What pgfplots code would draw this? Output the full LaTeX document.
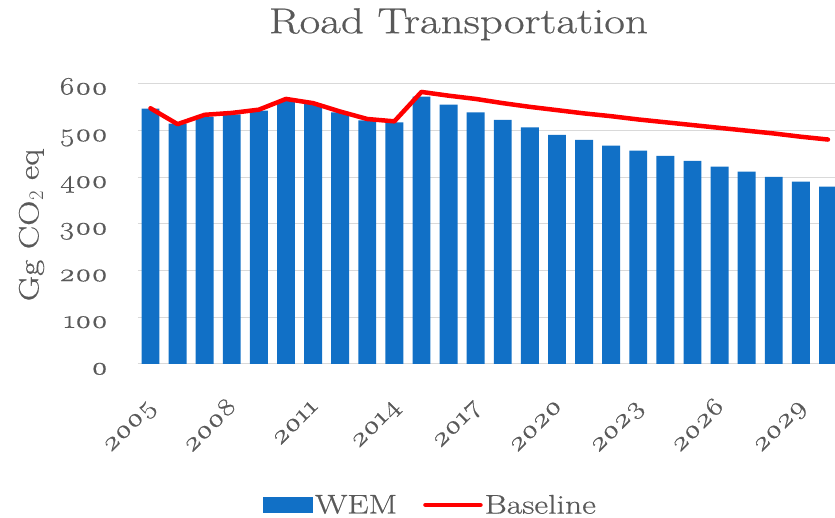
\documentclass[border=0pt]{standalone}
\usepackage{fontspec}
\usepackage{pgfplots}
\usepackage{pgfplotstable}
\pgfplotsset{compat=1.18}
% old-style figures, and a wider, heavier face as in the (stretched) reference
\setmainfont{Latin Modern Roman}[Numbers=OldStyle, FakeStretch=1.25, FakeBold=0.6]

\definecolor{wem}{HTML}{1170C6}
\definecolor{txt}{HTML}{595959}
\definecolor{gridc}{HTML}{D9D9D9}

% x: 0 = 2005 ... 25 = 2030
\pgfplotstableread{
x  wem  base
0  547  548
1  515  514
2  530  534
3  535  538
4  543  545
5  565  568
6  557  559
7  539  541
8  522  525
9  518  520
10 573  583
11 556  575
12 539  568
13 523  559
14 507  551
15 491  544
16 480  537
17 468  531
18 457  524
19 446  518
20 435  512
21 423  506
22 412  500
23 401  494
24 391  487
25 380  481
}\roaddata

\begin{document}
\begin{tikzpicture}
\path[use as bounding box] (-138pt,-154pt) rectangle (697pt,364pt);
\begin{axis}[
  scale only axis,
  width=697pt, height=280pt,
  xmin=-0.46, xmax=25.26,
  ymin=0, ymax=600,
  axis line style={draw=none},
  major tick length=0pt,
  ymajorgrids,
  grid style={gridc, line width=1pt},
  ytick={0,100,...,600},
  yticklabels={0,100,200,300,400,500,600},
  xtick={0,3,...,24},
  xticklabels={2005,2008,2011,2014,2017,2020,2023,2026,2029},
  tick label style={font=\fontsize{25}{30}\selectfont, text=txt},
  yticklabel style={anchor=base east, inner sep=0pt, xshift=-30pt, yshift=-10.5pt},
  xticklabel style={xshift=6pt, yshift=-43pt, rotate=45, anchor=base east, inner sep=0pt},
  ylabel={Gg CO$_2$ eq},
  ylabel style={at={(axis description cs:-0.1528,0.4964)}, anchor=center,
    font=\fontsize{28}{34}\selectfont, text=txt},
  title={Road Transportation},
  title style={at={(axis description cs:0.4598,1.16)}, anchor=base,
    font=\fontsize{36}{43}\selectfont, text=txt},
  legend columns=2,
  legend style={at={(axis description cs:0.4197,-0.5036)}, anchor=center,
    draw=none, fill=none, font=\fontsize{27}{32}\selectfont, text=txt,
    /tikz/every even column/.append style={column sep=24pt}},
]
\addplot[ybar, bar width=0.66, fill=wem, draw=none,
  legend image code/.code={\fill[wem] (0pt,-8pt) rectangle (50pt,8pt);}]
  table[x=x, y=wem] {\roaddata};
\addplot[red, line width=4.5pt, line join=round, line cap=round,
  legend image code/.code={\draw[red, line width=4.5pt, line cap=round] (0pt,0pt) -- (55pt,0pt);}]
  table[x=x, y=base] {\roaddata};
\legend{WEM, Baseline}
\end{axis}
\end{tikzpicture}
\end{document}
